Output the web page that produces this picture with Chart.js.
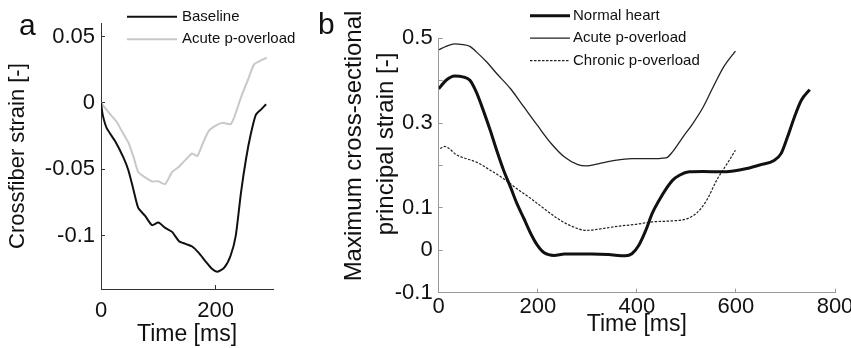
<!DOCTYPE html>
<html>
<head>
<meta charset="utf-8">
<script src="https://cdn.jsdelivr.net/npm/chart.js@4.4.1/dist/chart.umd.min.js"></script>
<style>
  html, body { margin: 0; padding: 0; background: #fff; }
  body { width: 851px; height: 348px; overflow: hidden; position: relative;
         font-family: 'Liberation Sans', Arial, sans-serif; color: #111; }
  .box { position: absolute; top: 0; height: 348px; }
  #boxA { left: 0; width: 320px; }
  #boxB { left: 320px; width: 540px; }
  .letter { position: absolute; font-size: 30px; line-height: 30px; }
  /* rotated axis title lines, anchored at their centre */
  .vtitle { position: absolute; font-size: 24px; line-height: 24px; white-space: nowrap;
            transform-origin: 0 0; transform: rotate(-90deg) translate(-50%, -50%); }
</style>
</head>
<body>
<div class="box" id="boxA"><canvas id="chartA" width="320" height="348"></canvas></div>
<div class="box" id="boxB"><canvas id="chartB" width="540" height="348"></canvas></div>
<div class="letter" style="left:19px;top:9.6px">a</div>
<div class="letter" style="left:318px;top:8.6px">b</div>
<div class="vtitle" style="left:353px;top:146px">Maximum cross-sectional</div>
<div class="vtitle" style="left:385px;top:144px">principal strain [-]</div>

<script>
// ---- Panel a: crossfiber strain ----
const labelsA = ['Baseline', 'Acute p-overload'];
const timeBaselineA = [0, 3, 10, 25, 39, 48, 57, 65, 77, 89, 100, 112, 124, 136, 147, 159, 171, 182, 194, 203, 215, 226, 235, 244, 253, 261, 270, 279, 288];
const strainBaselineA = [0, -0.009, -0.019, -0.029, -0.041, -0.051, -0.066, -0.079, -0.085, -0.092, -0.090, -0.094, -0.097, -0.104, -0.106, -0.108, -0.113, -0.119, -0.125, -0.127, -0.124, -0.115, -0.100, -0.068, -0.042, -0.024, -0.009, -0.005, -0.001];
const timeAcuteA = [0, 13, 27, 36, 48, 57, 65, 77, 89, 100, 112, 124, 136, 147, 159, 168, 177, 188, 200, 212, 226, 233, 244, 256, 267, 279, 289];
const strainAcuteA = [0, -0.007, -0.014, -0.021, -0.030, -0.041, -0.052, -0.056, -0.059, -0.059, -0.061, -0.052, -0.048, -0.043, -0.038, -0.040, -0.031, -0.021, -0.017, -0.015, -0.016, -0.010, 0.004, 0.017, 0.029, 0.032, 0.034];
const xTicksA = [0, 200];
const yTicksA = [-0.1, -0.05, 0, 0.05];

// ---- Panel b: max cross-sectional principal strain ----
const labelsB = ['Normal heart', 'Acute p-overload', 'Chronic p-overload'];
const timeNormalB = [0, 15, 32, 49, 63, 76, 90, 104, 117, 131, 145, 158, 172, 186, 199, 213, 233, 254, 309, 342, 377, 390, 404, 418, 431, 445, 459, 472, 486, 506, 534, 568, 595, 622, 650, 677, 691, 704, 718, 732, 749];
const strainNormalB = [0.381, 0.401, 0.411, 0.409, 0.401, 0.373, 0.330, 0.283, 0.236, 0.189, 0.149, 0.110, 0.075, 0.039, 0.012, -0.006, -0.012, -0.009, -0.009, -0.010, -0.013, -0.008, 0.012, 0.047, 0.087, 0.118, 0.145, 0.165, 0.177, 0.185, 0.186, 0.185, 0.187, 0.193, 0.202, 0.212, 0.228, 0.267, 0.314, 0.354, 0.379];
const timeAcuteB = [0, 15, 32, 49, 63, 76, 97, 117, 145, 172, 199, 227, 254, 281, 298, 322, 356, 390, 424, 459, 472, 493, 513, 534, 554, 575, 599];
const strainAcuteB = [0.473, 0.481, 0.487, 0.485, 0.481, 0.468, 0.444, 0.417, 0.381, 0.338, 0.295, 0.252, 0.220, 0.202, 0.199, 0.204, 0.212, 0.216, 0.216, 0.218, 0.232, 0.267, 0.299, 0.338, 0.385, 0.432, 0.470];
const timeChronicB = [3, 12, 21, 35, 56, 76, 104, 131, 158, 186, 213, 240, 268, 298, 329, 363, 397, 431, 465, 500, 520, 541, 561, 582, 599];
const strainChronicB = [0.240, 0.245, 0.240, 0.226, 0.216, 0.208, 0.189, 0.169, 0.145, 0.122, 0.098, 0.075, 0.057, 0.047, 0.051, 0.057, 0.061, 0.067, 0.069, 0.074, 0.087, 0.118, 0.165, 0.204, 0.236];
const xTicksB = [0, 200, 400, 600, 800];
const yTicksB = [-0.1, 0, 0.1, 0.2, 0.3, 0.4, 0.5];
const yLabelsB = [-0.1, 0, 0.1, 0.3, 0.5]; // 0.2 and 0.4 have a tick but no label

const pairs = (xs, ys) => xs.map((x, i) => ({ x: x, y: ys[i] }));
const fmt = v => String(Math.round(v * 1000) / 1000);

// legend drawn inside the plot corner, matlab style
const legendPlugin = {
  id: 'cornerLegend',
  afterDraw(chart, args, opts) {
    const ctx = chart.ctx;
    ctx.save();
    ctx.font = opts.font;
    ctx.textBaseline = 'middle';
    ctx.fillStyle = '#111';
    chart.data.datasets.forEach((ds, i) => {
      const y = opts.y + i * opts.rowHeight;
      ctx.beginPath();
      ctx.strokeStyle = ds.borderColor;
      ctx.lineWidth = ds.borderWidth;
      ctx.setLineDash(ds.borderDash || []);
      ctx.moveTo(opts.x, y);
      ctx.lineTo(opts.x + opts.sample, y);
      ctx.stroke();
      ctx.setLineDash([]);
      ctx.fillText(ds.label, opts.x + opts.sample + opts.gap, y);
    });
    ctx.restore();
  }
};

function axis(color, ticks, labelFilter, padding, fit) {
  return {
    type: 'linear',
    afterBuildTicks: s => { s.ticks = ticks.map(v => ({ value: v })); },
    afterFit: fit,
    grid: { drawOnChartArea: false, drawTicks: true, tickLength: -4, color: color, lineWidth: 1 },
    border: { display: true, color: color, width: 1 },
    ticks: {
      color: '#111', padding: padding,
      font: { family: "'Liberation Sans', Arial, sans-serif", size: 22 },
      callback: v => (labelFilter && !labelFilter.some(l => Math.abs(l - v) < 1e-9)) ? '' : fmt(v)
    }
  };
}

Chart.defaults.font.family = "'Liberation Sans', Arial, sans-serif";

const xA = axis('#333', xTicksA, null, 12.5, s => { s.height = 59; });
xA.min = 0; xA.max = 300;
xA.title = { display: true, text: 'Time [ms]', color: '#111', padding: 0, font: { size: 23 } };
const yA = axis('#333', yTicksA, null, 10, s => { s.width = 101; });
yA.min = -0.14; yA.max = 0.06;
yA.title = { display: true, text: 'Crossfiber strain [-]', color: '#111', padding: { top: 5, bottom: 0 }, font: { size: 22 } };

new Chart(document.getElementById('chartA'), {
  type: 'line',
  data: {
    datasets: [
      { label: labelsA[0], data: pairs(timeBaselineA, strainBaselineA), borderColor: '#111', borderWidth: 2, pointRadius: 0, tension: 0.2 },
      { label: labelsA[1], data: pairs(timeAcuteA, strainAcuteA), borderColor: '#c8c8c8', borderWidth: 2, pointRadius: 0, tension: 0.2 }
    ]
  },
  options: {
    responsive: false,
    animation: false,
    layout: { padding: { left: 0, right: 47, top: 22, bottom: 0 } },
    scales: { x: xA, y: yA },
    plugins: {
      legend: { display: false },
      tooltip: { enabled: false },
      cornerLegend: { x: 127, y: 16.7, sample: 50, gap: 5, rowHeight: 22.6, font: "15px 'Liberation Sans', Arial, sans-serif" }
    }
  },
  plugins: [legendPlugin]
});

const xB = axis('#999', xTicksB, null, 5.4, s => { s.height = 55.3; });
xB.min = 0; xB.max = 800;
xB.title = { display: true, text: 'Time [ms]', color: '#111', padding: { top: 0, bottom: 10 }, font: { size: 23 } };
const yB = axis('#999', yTicksB, yLabelsB, 10, s => { s.width = 118.7; });
yB.min = -0.1; yB.max = 0.5;

new Chart(document.getElementById('chartB'), {
  type: 'line',
  data: {
    datasets: [
      { label: labelsB[0], data: pairs(timeNormalB, strainNormalB), borderColor: '#111', borderWidth: 3, pointRadius: 0, cubicInterpolationMode: 'monotone' },
      { label: labelsB[1], data: pairs(timeAcuteB, strainAcuteB), borderColor: '#222', borderWidth: 1.3, pointRadius: 0, cubicInterpolationMode: 'monotone' },
      { label: labelsB[2], data: pairs(timeChronicB, strainChronicB), borderColor: '#222', borderWidth: 1.2, borderDash: [2.5, 1.5], pointRadius: 0, cubicInterpolationMode: 'monotone' }
    ]
  },
  options: {
    responsive: false,
    animation: false,
    layout: { padding: { left: 0, right: 25, top: 38.3, bottom: 0 } },
    scales: { x: xB, y: yB },
    plugins: {
      legend: { display: false },
      tooltip: { enabled: false },
      cornerLegend: { x: 210, y: 15.7, sample: 40, gap: 3, rowHeight: 22.5, font: "15px 'Liberation Sans', Arial, sans-serif" }
    }
  },
  plugins: [legendPlugin]
});
</script>
</body>
</html>
